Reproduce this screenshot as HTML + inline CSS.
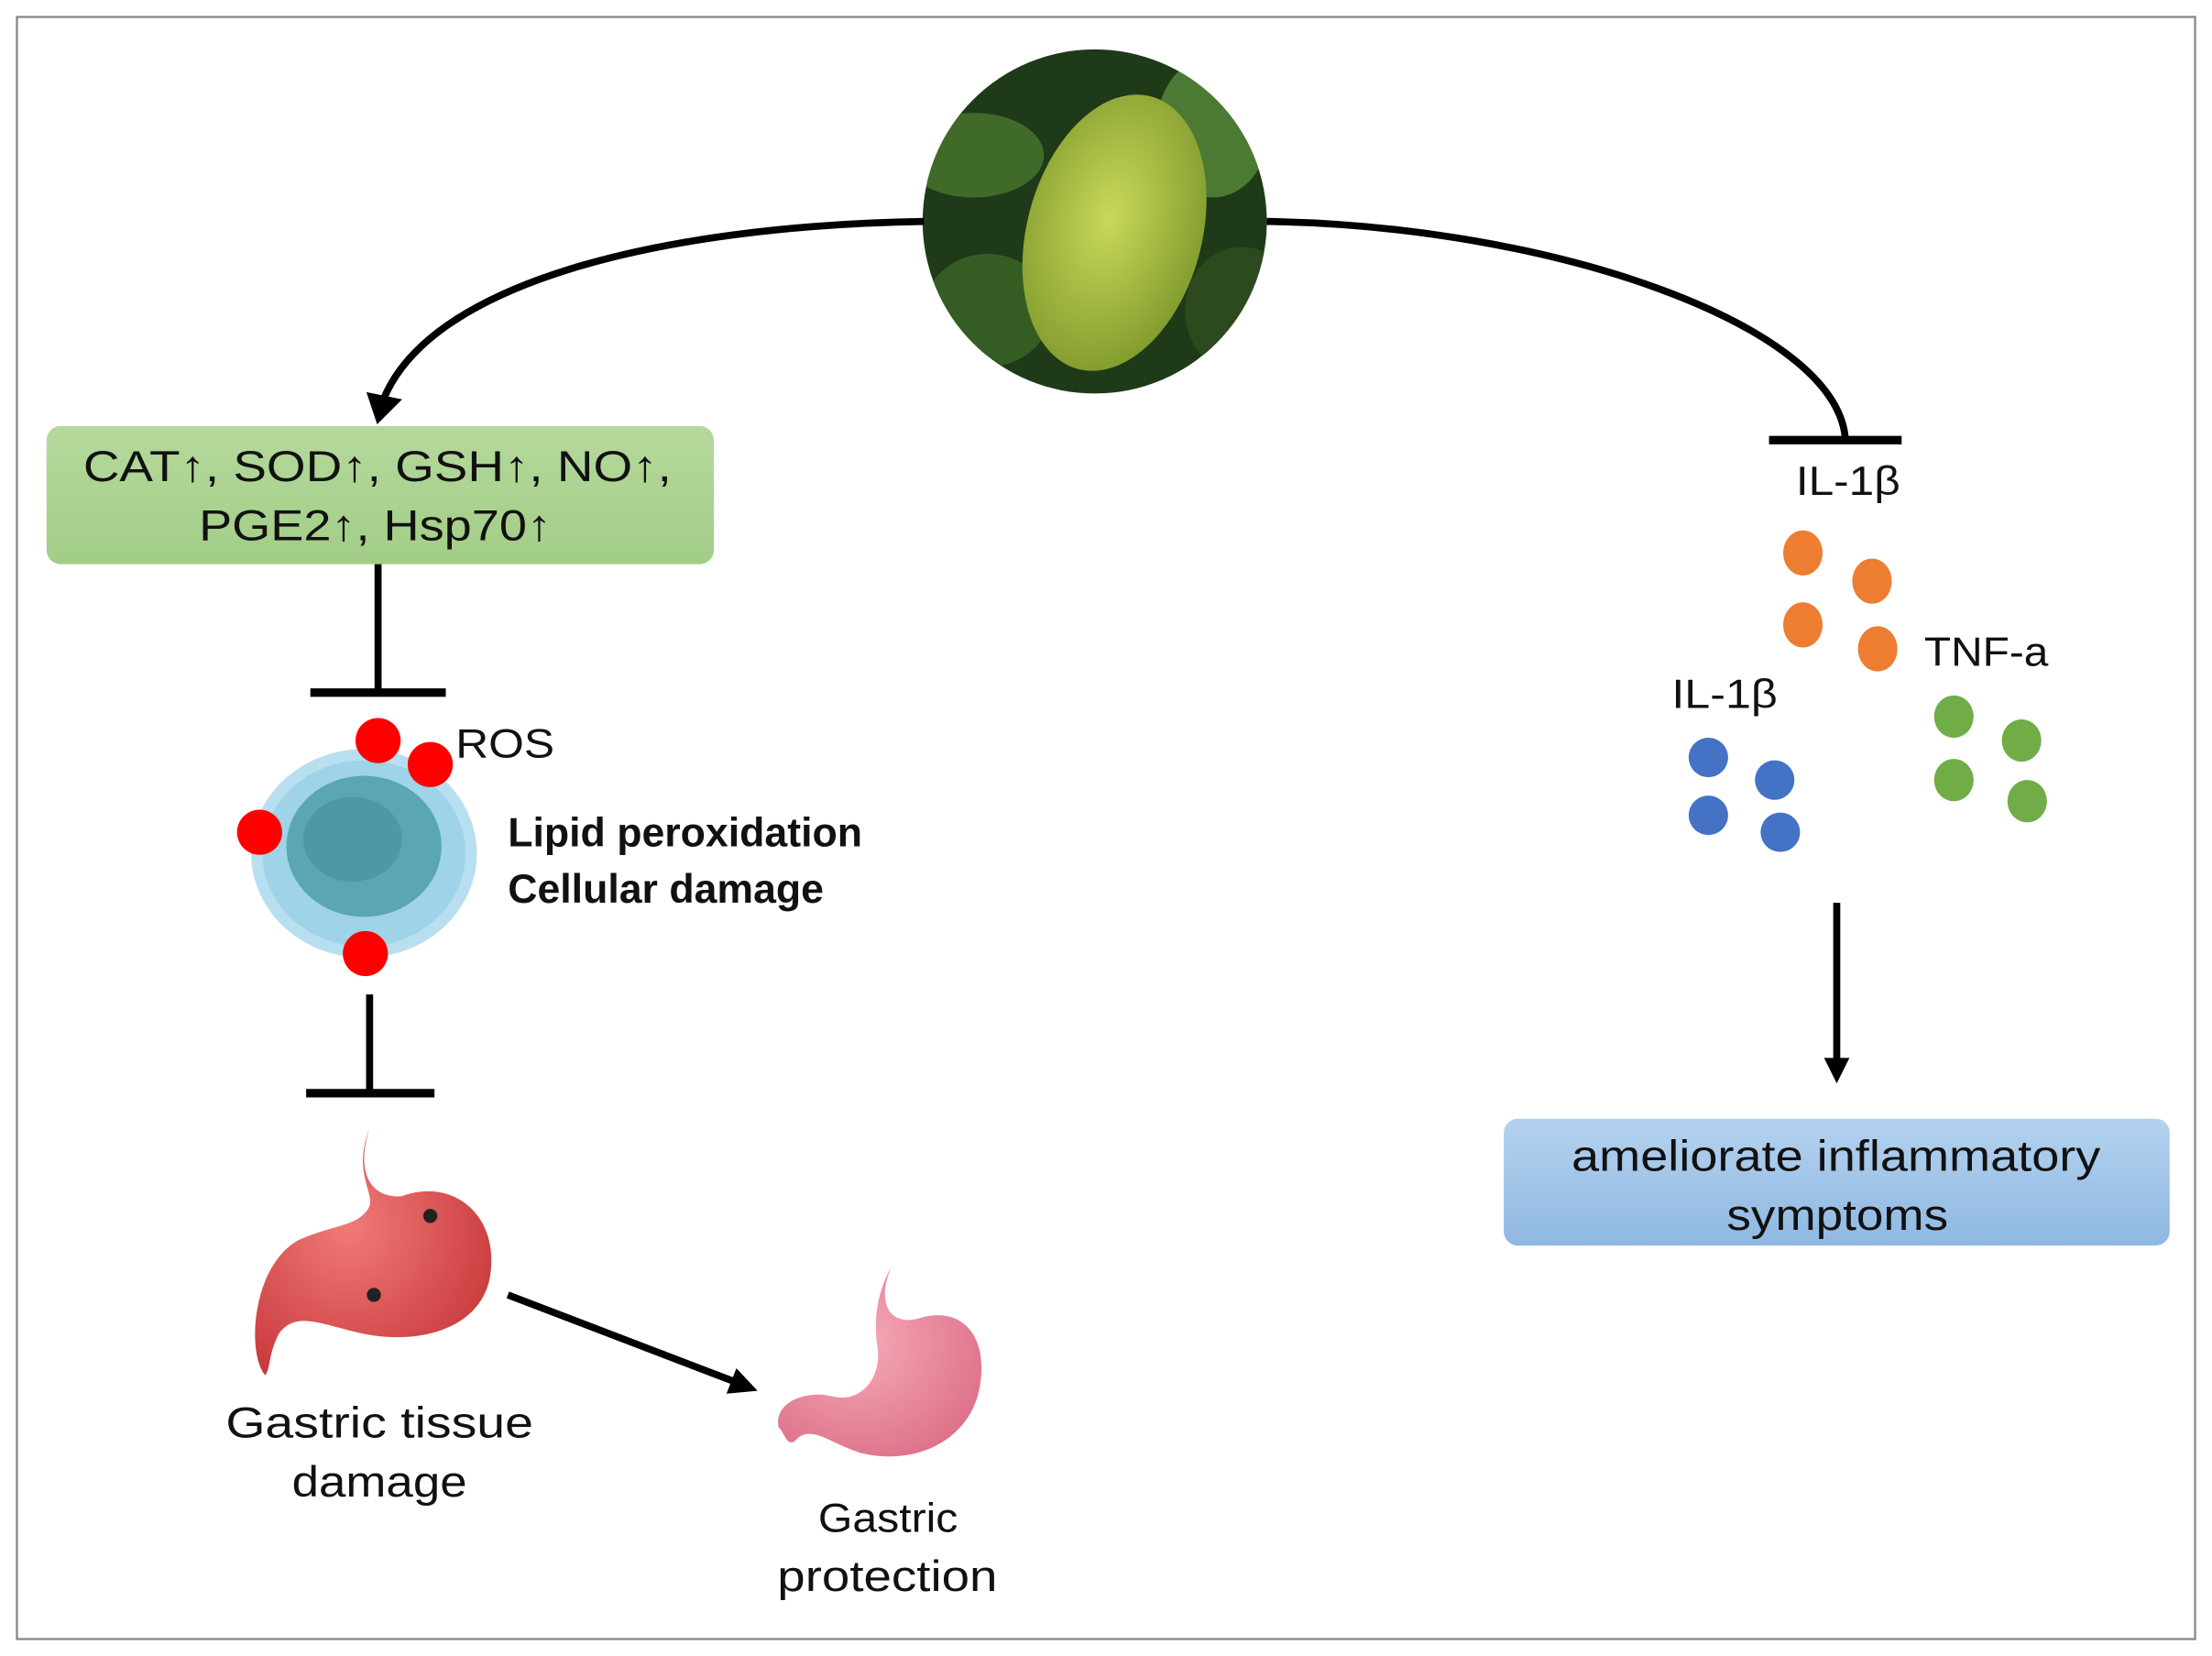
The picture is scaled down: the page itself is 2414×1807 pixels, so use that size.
<!DOCTYPE html>
<html><head><meta charset="utf-8"><style>
html,body{margin:0;padding:0;background:#fff}
svg{display:block}
text{font-family:"Liberation Sans",sans-serif;fill:#111}
</style></head><body>
<svg width="2414" height="1807" viewBox="0 0 1568 1174" preserveAspectRatio="none" xmlns="http://www.w3.org/2000/svg">
<defs>
<linearGradient id="gg" x1="0" y1="0" x2="0" y2="1"><stop offset="0" stop-color="#b5d99c"/><stop offset="1" stop-color="#a2cd86"/></linearGradient>
<linearGradient id="bg" x1="0" y1="0" x2="0" y2="1"><stop offset="0" stop-color="#b4d2ef"/><stop offset="1" stop-color="#8fb8e2"/></linearGradient>
<radialGradient id="fr" cx="0.45" cy="0.45" r="0.6"><stop offset="0" stop-color="#c9d85a"/><stop offset="1" stop-color="#7f9a2c"/></radialGradient>
<radialGradient id="rs" cx="0.4" cy="0.4" r="0.7"><stop offset="0" stop-color="#f07a78"/><stop offset="1" stop-color="#c8383a"/></radialGradient>
<radialGradient id="ps" cx="0.4" cy="0.4" r="0.7"><stop offset="0" stop-color="#f6aab8"/><stop offset="1" stop-color="#dc6f88"/></radialGradient>
<clipPath id="cc"><circle cx="776" cy="157" r="122"/></clipPath>
</defs>
<rect x="12" y="12" width="1544" height="1150" fill="#fff" stroke="#888" stroke-width="1.5"/>
<g clip-path="url(#cc)">
<rect x="650" y="30" width="260" height="260" fill="#1f3a18"/>
<ellipse cx="690" cy="110" rx="50" ry="30" fill="#3f6a2a"/>
<ellipse cx="860" cy="90" rx="40" ry="50" fill="#4d7a33"/>
<ellipse cx="700" cy="220" rx="45" ry="40" fill="#355c22"/>
<ellipse cx="880" cy="220" rx="40" ry="45" fill="#2c4a1e"/>
<ellipse cx="790" cy="165" rx="62" ry="100" transform="rotate(15 790 165)" fill="url(#fr)"/>
</g>
<path d="M655,157 C470,160 300,200 270,288" fill="none" stroke="#000" stroke-width="5"/>
<path d="M262,280 L268,298 L282,284 Z" fill="#000" stroke="#000" stroke-width="3"/>
<path d="M898,157 C1100,160 1300,230 1308,310" fill="none" stroke="#000" stroke-width="5"/>
<line x1="1254" y1="312" x2="1348" y2="312" stroke="#000" stroke-width="6"/>
<rect x="33" y="302" width="473" height="98" rx="10" fill="url(#gg)"/>
<text x="59" y="341" font-size="31" textLength="417" lengthAdjust="spacingAndGlyphs">CAT↑, SOD↑, GSH↑, NO↑,</text>
<text x="141" y="383" font-size="31" textLength="250" lengthAdjust="spacingAndGlyphs">PGE2↑, Hsp70↑</text>
<line x1="268" y1="400" x2="268" y2="490" stroke="#000" stroke-width="5"/>
<line x1="220" y1="491" x2="316" y2="491" stroke="#000" stroke-width="6"/>
<ellipse cx="258" cy="605" rx="80" ry="74" fill="#b8dff0"/>
<ellipse cx="258" cy="605" rx="72" ry="66" fill="#9fd3e8"/>
<ellipse cx="258" cy="600" rx="55" ry="50" fill="#5aa6b4"/>
<ellipse cx="250" cy="595" rx="35" ry="30" fill="#4e97a6"/>
<circle cx="268" cy="525" r="16" fill="#f00"/>
<circle cx="305" cy="542" r="16" fill="#f00"/>
<circle cx="184" cy="590" r="16" fill="#f00"/>
<circle cx="259" cy="676" r="16" fill="#f00"/>
<text x="323" y="537" font-size="29" textLength="70" lengthAdjust="spacingAndGlyphs">ROS</text>
<text x="360" y="600" font-size="29" font-weight="bold">Lipid peroxidation</text>
<text x="360" y="640" font-size="29" font-weight="bold">Cellular damage</text>
<line x1="262" y1="705" x2="262" y2="775" stroke="#000" stroke-width="5"/>
<line x1="217" y1="775" x2="308" y2="775" stroke="#000" stroke-width="6"/>
<path d="M262,800 C252,830 262,850 285,848 C320,835 352,860 348,900 C345,940 300,955 255,945 C225,938 210,930 198,945 C190,960 192,970 188,975 C175,960 178,900 210,880 C235,868 255,870 262,855 C265,845 250,830 262,800 Z" fill="url(#rs)"/>
<circle cx="305" cy="862" r="5" fill="#222"/>
<circle cx="265" cy="918" r="5" fill="#222"/>
<text x="160" y="1019" font-size="31" textLength="218" lengthAdjust="spacingAndGlyphs">Gastric tissue</text>
<text x="207" y="1061" font-size="31" textLength="124" lengthAdjust="spacingAndGlyphs">damage</text>
<line x1="360" y1="918" x2="522" y2="980" stroke="#000" stroke-width="5"/>
<path d="M537,986 L515,988 L522,970 Z" fill="#000"/>
<path d="M632,898 C622,920 628,940 650,935 C680,925 700,945 695,980 C690,1020 650,1040 610,1030 C590,1024 575,1010 565,1020 C558,1028 556,1015 552,1012 C548,995 570,985 590,990 C612,995 625,975 622,955 C618,930 625,910 632,898 Z" fill="url(#ps)"/>
<text x="580" y="1086" font-size="29" textLength="99" lengthAdjust="spacingAndGlyphs">Gastric</text>
<text x="551" y="1128" font-size="31" textLength="156" lengthAdjust="spacingAndGlyphs">protection</text>
<text x="1273" y="351" font-size="29" textLength="74" lengthAdjust="spacingAndGlyphs">IL-1β</text>
<g fill="#ed7d31"><ellipse cx="1278" cy="392" rx="14" ry="16"/><ellipse cx="1327" cy="412" rx="14" ry="16"/><ellipse cx="1278" cy="443" rx="14" ry="16"/><ellipse cx="1331" cy="460" rx="14" ry="16"/></g>
<text x="1364" y="472" font-size="29" textLength="88" lengthAdjust="spacingAndGlyphs">TNF-a</text>
<g fill="#70ad47"><ellipse cx="1385" cy="508" rx="14" ry="15"/><ellipse cx="1433" cy="525" rx="14" ry="15"/><ellipse cx="1385" cy="553" rx="14" ry="15"/><ellipse cx="1437" cy="568" rx="14" ry="15"/></g>
<text x="1185" y="502" font-size="29" textLength="75" lengthAdjust="spacingAndGlyphs">IL-1β</text>
<g fill="#4472c4"><ellipse cx="1211" cy="537" rx="14" ry="14"/><ellipse cx="1258" cy="553" rx="14" ry="14"/><ellipse cx="1211" cy="578" rx="14" ry="14"/><ellipse cx="1262" cy="590" rx="14" ry="14"/></g>
<line x1="1302" y1="640" x2="1302" y2="752" stroke="#000" stroke-width="5"/>
<path d="M1293,750 L1311,750 L1302,768 Z" fill="#000"/>
<rect x="1066" y="793" width="472" height="90" rx="10" fill="url(#bg)"/>
<text x="1114" y="830" font-size="31" textLength="375" lengthAdjust="spacingAndGlyphs">ameliorate inflammatory</text>
<text x="1224" y="872" font-size="31" textLength="157" lengthAdjust="spacingAndGlyphs">symptoms</text>
</svg>
</body></html>
